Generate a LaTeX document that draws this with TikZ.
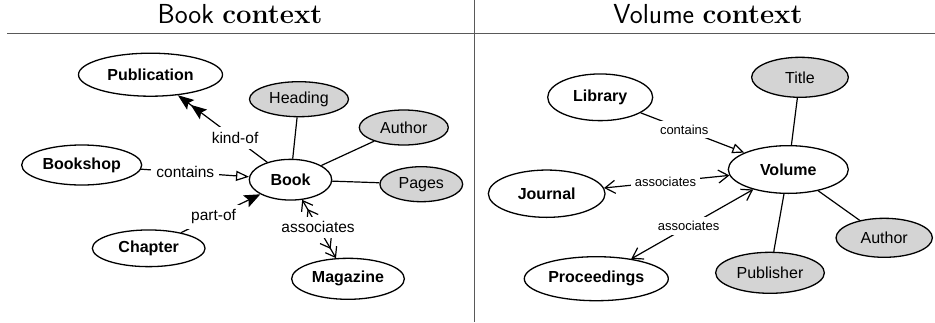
\documentclass[tikz,border=0pt]{standalone}
\usepackage{fontspec}
\newfontfamily\hv{Liberation Sans}
\usetikzlibrary{shapes.geometric,arrows.meta}
\tikzset{
  ent/.style={ellipse,draw=black,line width=1.3pt,fill=white,inner sep=0pt,
    font=\hv\bfseries\fontsize{16}{18}\selectfont},
  attr/.style={ellipse,draw=black,line width=1.3pt,fill=black!17,inner sep=0pt,
    font=\hv\fontsize{16}{18}\selectfont},
  edge/.style={line width=1.2pt},
  lblL/.style={fill=white,inner sep=5pt,font=\hv\fontsize{15.5}{18}\selectfont},
  lblR/.style={fill=white,inner sep=4pt,font=\hv\fontsize{13}{15}\selectfont},
  ttl/.style={anchor=base,inner sep=0pt,font=\fontsize{27.5}{32}\selectfont},
  rule/.style={draw=black!65,line width=1pt}
}
\begin{document}
\begin{tikzpicture}[x=1pt,y=-1pt]
\useasboundingbox (0,0) rectangle (935,322);
% frame
\coordinate (hl) at (7,33);
\coordinate (hr) at (935,33);
\coordinate (vt) at (474.5,0);
\coordinate (vb) at (474.5,322);
\draw[rule] (hl) -- (hr);
\draw[rule] (vt) -- (vb);
\node[ttl] (t1) at (240,23.5) {\textsf{Book} \textbf{context}};
\node[ttl] (t2) at (708,23.5) {\textsf{Volume} \textbf{context}};
% left panel
\node[ent,minimum width=144pt,minimum height=43pt] (pub) at (150.5,74.7) {Publication};
\node[attr,minimum width=99pt,minimum height=35pt] (head) at (299,99.2) {Heading};
\node[attr,minimum width=89pt,minimum height=35pt] (auth) at (403.8,127.5) {Author};
\node[ent,minimum width=120pt,minimum height=40pt] (shop) at (81.7,165) {Bookshop};
\node[ent,minimum width=82.4pt,minimum height=40.7pt] (book) at (290.5,179.7) {Book};
\node[attr,minimum width=82.7pt,minimum height=35pt] (pages) at (421.3,184.2) {Pages};
\node[ent,minimum width=112.7pt,minimum height=36.7pt] (chap) at (148.7,248.3) {Chapter};
\node[ent,minimum width=112.7pt,minimum height=41pt] (mag) at (348,278.8) {Magazine};
\draw[edge] (book) -- (head);
\draw[edge] (book) -- (auth);
\draw[edge] (book) -- (pages);
\draw[edge,-{Stealth[length=16pt,width=12pt,inset=3pt] Stealth[length=16pt,width=12pt,inset=3pt]}]
  (book) -- node[lblL,pos=0.36] {kind-of} (pub);
\draw[edge,-{Triangle[open,length=13pt,width=10pt]}]
  (shop) -- node[lblL,pos=0.41] {contains} (book);
\draw[edge,-{Stealth[length=16pt,width=13pt,inset=3pt]}]
  (chap) -- node[lblL,pos=0.41] {part-of} (book);
\draw[edge,{Straight Barb[length=9pt,width=13pt] Straight Barb[length=9pt,width=13pt]}-{Straight Barb[length=9pt,width=13pt] Straight Barb[length=9pt,width=13pt]}]
  (book) -- node[lblL,pos=0.47] {associates} (mag);
% right panel
\node[ent,minimum width=105pt,minimum height=46.7pt] (lib) at (600.2,97.3) {Library};
\node[attr,minimum width=96.7pt,minimum height=40pt] (title) at (800,77.3) {Title};
\node[ent,minimum width=120pt,minimum height=47.7pt] (vol) at (788.3,169.5) {Volume};
\node[ent,minimum width=116.7pt,minimum height=47.3pt] (jour) at (546.7,193.7) {Journal};
\node[attr,minimum width=96.3pt,minimum height=39pt] (auth2) at (884.2,237.8) {Author};
\node[attr,minimum width=108.7pt,minimum height=41pt] (publ) at (770,272.8) {Publisher};
\node[ent,minimum width=144pt,minimum height=44pt] (proc) at (596.3,278.7) {Proceedings};
\draw[edge] (vol) -- (title);
\draw[edge] (vol) -- (publ);
\draw[edge] (vol) -- (auth2);
\draw[edge,-{Triangle[open,length=12pt,width=10pt]}]
  (lib) -- node[lblR,pos=0.42] {contains} (vol);
\draw[edge,{Straight Barb[length=10pt,width=13pt]}-{Straight Barb[length=10pt,width=13pt]}]
  (jour) -- node[lblR,pos=0.49] {associates} (vol);
\draw[edge,{Straight Barb[length=10pt,width=13pt]}-{Straight Barb[length=10pt,width=13pt]}]
  (proc) -- node[lblR,pos=0.47] {associates} (vol);
\end{tikzpicture}
\end{document}
